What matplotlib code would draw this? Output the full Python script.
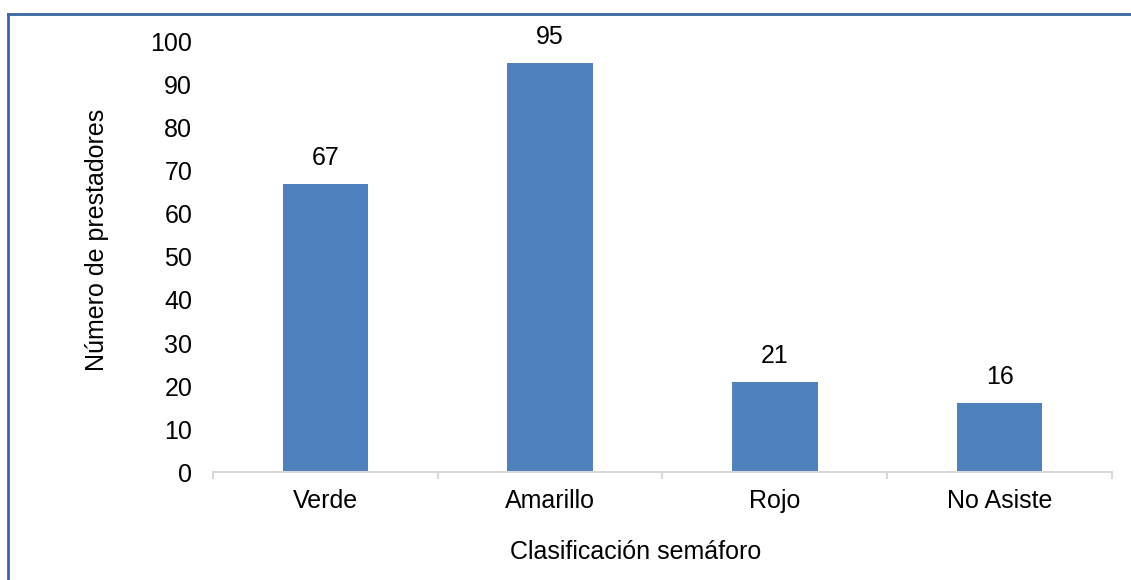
import numpy as np
import matplotlib.pyplot as plt
from matplotlib.lines import Line2D

categorias = ["Verde", "Amarillo", "Rojo", "No Asiste"]
prestadores = [67, 95, 21, 16]
yticks = [0, 10, 20, 30, 40, 50, 60, 70, 80, 90, 100]

plt.rcParams['font.family'] = ['Liberation Sans', 'DejaVu Sans']
fs = 18

fig = plt.figure(figsize=(11.31, 5.80), dpi=100)
ax = fig.add_axes([0.1883, 0.1862, 0.7949, 0.7414])

x = np.arange(len(categorias))
ax.bar(x, prestadores, width=0.38, color="#4F81BD", zorder=2)
for xi, v in zip(x, prestadores):
    ax.text(xi, v + 3.3, str(v), ha="center", va="bottom", fontsize=fs, color="#000000")

ax.set_xlim(-0.5, len(categorias) - 0.5)
ax.set_ylim(0, 100)
ax.set_yticks(yticks)
ax.set_yticklabels([str(t) for t in yticks], fontsize=fs)
ax.set_xticks(x)
ax.set_xticklabels(categorias, fontsize=fs)
ax.tick_params(axis="y", length=0, pad=15)
ax.tick_params(axis="x", length=0, pad=12)

# category boundary ticks on the bottom axis
for b in np.arange(-0.5, len(categorias), 1.0):
    ax.plot([b, b], [0, -1.4], color="#D9D9D9", lw=1.5, clip_on=False, zorder=1)

for s in ["top", "right", "left"]:
    ax.spines[s].set_visible(False)
ax.spines["bottom"].set_color("#D9D9D9")
ax.spines["bottom"].set_linewidth(1.5)

ax.set_xlabel("Clasificación semáforo", fontsize=fs)
ax.set_ylabel("Número de prestadores", fontsize=fs)
ax.xaxis.set_label_coords(0.4705, -0.158)
ax.yaxis.set_label_coords(-0.116, 0.5395)

# frame border along the left and top edges
fig.add_artist(Line2D([8 / 1131, 8 / 1131], [0, 1 - 14 / 580], color="#3A65A0", lw=2))
fig.add_artist(Line2D([8 / 1131, 1], [1 - 14 / 580, 1 - 14 / 580], color="#3A65A0", lw=2))

fig.savefig("out.png", dpi=100)
